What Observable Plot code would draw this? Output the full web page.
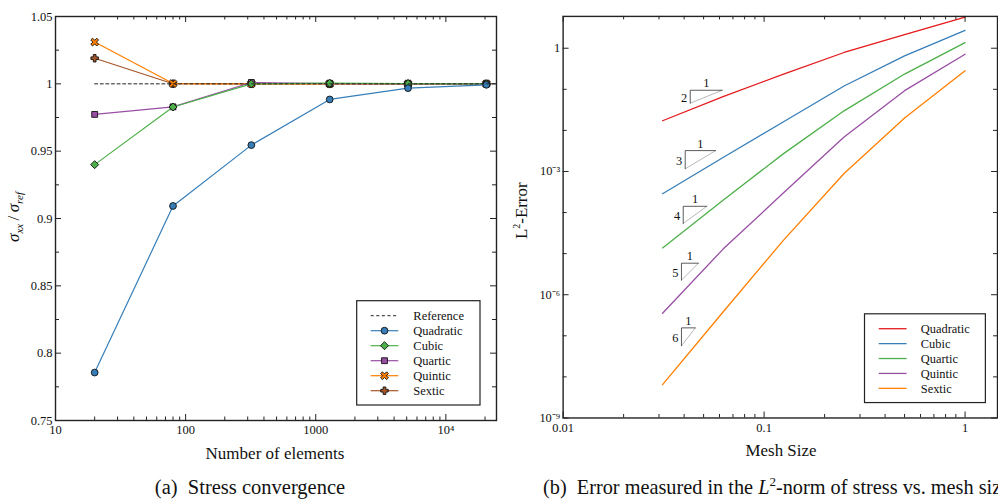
<!DOCTYPE html>
<html><head><meta charset="utf-8">
<script src="https://cdn.jsdelivr.net/npm/d3@7"></script>
<script src="https://cdn.jsdelivr.net/npm/@observablehq/plot@0.6"></script>
<style>
html,body{margin:0;padding:0;background:#fff;overflow:hidden;}
#wrap{position:relative;width:998px;height:501px;overflow:hidden;background:#fff;}
#left{position:absolute;left:0;top:0;}
#right{position:absolute;left:500px;top:0;}
#caps{position:absolute;left:0;top:460px;}
</style></head><body>
<div id="wrap"><div id="left"></div><div id="right"></div><svg id="caps" width="998" height="41"></svg></div>
<script>
// ---------- Panel (a) data ----------
const nElements = [20, 80, 320, 1280, 5120, 20480];
const quadratic = [0.7856, 0.9093, 0.9545, 0.9884, 0.9968, 0.9993];
const cubic     = [0.9400, 0.9828, 1.0000, 1.0005, 1.0002, 1.0000];
const quartic   = [0.9773, 0.9829, 1.0010, 1.0001, 1.0000, 1.0000];
const quintic   = [1.0310, 1.0002, 1.0000, 1.0000, 1.0000, 1.0000];
const sextic    = [1.0190, 1.0001, 1.0000, 1.0000, 1.0000, 1.0000];
const referenceX = [20, 24500];
const referenceValue = 1;
const seriesNames = ["Quadratic", "Cubic", "Quartic", "Quintic", "Sextic"];
const stressColors = ["#377eb8", "#4daf4a", "#984ea3", "#ff7f00", "#a65628"];
const xTicksA = [10, 100, 1000, 10000];
const xTickLabelsA = ["10", "100", "1000", "10\u2074"];
const yTicksA = [0.75, 0.8, 0.85, 0.9, 0.95, 1, 1.05];
const yTickLabelsA = ["0.75", "0.8", "0.85", "0.9", "0.95", "1", "1.05"];
const yMinorA = [0.775, 0.825, 0.875, 0.925, 0.975, 1.025];

// ---------- Panel (b) data ----------
const meshSize = [0.03125, 0.0625, 0.125, 0.25, 0.5, 1];
const errQuadratic = [0.01714, 0.0661, 0.2344, 0.787, 2.143, 5.71];
const errCubic     = [2.88e-4, 2.19e-3, 1.62e-2, 0.1205, 0.652, 2.73];
const errQuartic   = [1.38e-5, 2.0e-4, 2.72e-3, 2.99e-2, 0.235, 1.37];
const errQuintic   = [3.55e-7, 1.29e-5, 3.02e-4, 6.92e-3, 9.27e-2, 0.716];
const errSextic    = [6.46e-9, 3.8e-7, 2.14e-5, 8.91e-4, 2.0e-2, 0.282];
const errColors = ["#e41a1c", "#377eb8", "#4daf4a", "#984ea3", "#ff7f00"];
const xTicksB = [0.01, 0.1, 1];
const xTickLabelsB = ["0.01", "0.1", "1"];
const yTicksB = [1e-9, 1e-6, 1e-3, 1];
const yTickLabelsB = ["10\u207b\u2079", "10\u207b\u2076", "10\u207b\u00b3", "1"];
// slope triangles
const slopeOrders = [2, 3, 4, 5, 6];
const triX0 = [0.0429, 0.0405, 0.0396, 0.0388, 0.0388];
const triX1 = [0.0619, 0.0574, 0.0519, 0.0471, 0.0455];
const triTop = [0.0948, 0.00322, 1.42e-4, 5.85e-6, 1.56e-7];
const triBot = [0.0459, 0.00116, 5.42e-5, 2.26e-6, 5.73e-8];

const FONT = '"Liberation Serif", "Times New Roman", serif';

// custom filled symbols
function poly(ctx, pts){ctx.moveTo(pts[0][0],pts[0][1]);for(let k=1;k<pts.length;k++)ctx.lineTo(pts[k][0],pts[k][1]);ctx.closePath();}
function plusPts(r,w){return [[-w,-r],[w,-r],[w,-w],[r,-w],[r,w],[w,w],[w,r],[-w,r],[-w,w],[-r,w],[-r,-w],[-w,-w]];}
const symbolPlusFilled = {draw(ctx,size){const r=Math.sqrt(size/Math.PI)*1.1, w=r*0.36; poly(ctx, plusPts(r,w));}};
const symbolXFilled = {draw(ctx,size){const r=Math.sqrt(size/Math.PI)*1.25, w=r*0.3; const s=Math.SQRT1_2; poly(ctx, plusPts(r,w).map(([x,y])=>[(x-y)*s,(x+y)*s]));}};
const stressSymbols = [d3.symbolCircle, d3.symbolDiamond2 || d3.symbolDiamond, d3.symbolSquare, symbolXFilled, symbolPlusFilled];
const symbolR = [3.4, 3.6, 3.3, 3.4, 3.4];

function minorLog(lo, hi){const out=[];for(let e=Math.floor(Math.log10(lo));e<=Math.ceil(Math.log10(hi));e++){for(let k=2;k<=9;k++){const v=k*Math.pow(10,e);if(v>lo&&v<hi)out.push(v);}}return out;}
function decadeMinor(lo, hi, majors){const out=[];for(let e=Math.ceil(Math.log10(lo));e<=Math.floor(Math.log10(hi));e++){const v=Math.pow(10,e);if(!majors.some(m=>Math.abs(Math.log10(m)-e)<1e-9))out.push(v);}return out;}

function tickMarks(xMajor, xMinor, yMajor, yMinor, fw, fh){
  const st = {stroke:"#222", strokeWidth:1};
  return [
    Plot.tickX(xMajor, {x:d=>d, insetTop:fh-6, ...st}),
    Plot.tickX(xMajor, {x:d=>d, insetBottom:fh-6, ...st}),
    Plot.tickX(xMinor, {x:d=>d, insetTop:fh-3.5, ...st}),
    Plot.tickX(xMinor, {x:d=>d, insetBottom:fh-3.5, ...st}),
    Plot.tickY(yMajor, {y:d=>d, insetRight:fw-6, ...st}),
    Plot.tickY(yMajor, {y:d=>d, insetLeft:fw-6, ...st}),
    Plot.tickY(yMinor, {y:d=>d, insetRight:fw-4, ...st}),
    Plot.tickY(yMinor, {y:d=>d, insetLeft:fw-4, ...st})
  ];
}
function serifify(svgEl){
  d3.select(svgEl).selectAll("text").style("font-family", FONT).attr("fill", "#111");
}

// ---------- Panel (a) ----------
const stressValues = [quadratic, cubic, quartic, quintic, sextic];
const xDomA = [10, 24500];
const fwA = 500-55-4, fhA = 460-16-40;
const marksA = [];
for (let i = seriesNames.length-1; i >= 0; i--) {
  const rows = nElements.map((n,j)=>({n, v: stressValues[i][j]}));
  marksA.push(Plot.line(rows, {x:"n", y:"v", stroke: stressColors[i], strokeWidth:1.2}));
  marksA.push(Plot.dot(rows, {x:"n", y:"v", symbol: stressSymbols[i], r: symbolR[i], fill: stressColors[i], stroke:"#111", strokeWidth:0.9}));
}
marksA.push(Plot.line(referenceX.map(x=>({x, y: referenceValue})), {x:"x", y:"y", stroke:"#222", strokeWidth:1, strokeDasharray:"3,2.6"}));
const labA = new Map(xTicksA.map((d,i)=>[d, xTickLabelsA[i]]));
const labAy = new Map(yTicksA.map((d,i)=>[d, yTickLabelsA[i]]));
const plotA = Plot.plot({
  width:500, height:460, marginLeft:55, marginRight:4, marginTop:16, marginBottom:40,
  style:{fontFamily:FONT, fontSize:"12.5px", color:"#222", background:"transparent", overflow:"visible"},
  x:{type:"log", domain:xDomA, ticks:xTicksA, tickFormat:d=>labA.get(d), tickSize:0, tickPadding:5, label:null},
  y:{domain:[0.75,1.05], ticks:yTicksA, tickFormat:d=>labAy.get(d), tickSize:0, tickPadding:3, label:null},
  marks:[...marksA, ...tickMarks(xTicksA, minorLog(xDomA[0], xDomA[1]).filter(v=>!xTicksA.includes(v)), yTicksA, yMinorA, fwA, fhA), Plot.frame({stroke:"#222", strokeWidth:1.4})]
});
serifify(plotA);
document.getElementById("left").appendChild(plotA);
{
  const svg = d3.select(plotA);
  svg.append("text").attr("x",275).attr("y",459).attr("text-anchor","middle").style("font-family",FONT).style("font-size","17px").attr("fill","#111").text("Number of elements");
  const yl = svg.append("text").attr("transform","translate(19,217) rotate(-90)").attr("text-anchor","middle").style("font-family",FONT).style("font-size","17px").attr("fill","#111");
  yl.append("tspan").style("font-style","italic").text("\u03c3");
  yl.append("tspan").style("font-style","italic").style("font-size","11px").attr("dy",4).text("xx");
  yl.append("tspan").attr("dy",-4).text("\u2009/\u2009");
  yl.append("tspan").style("font-style","italic").text("\u03c3");
  yl.append("tspan").style("font-style","italic").style("font-size","11px").attr("dy",4).text("ref");
  const g = svg.append("g");
  g.append("rect").attr("x",356.7).attr("y",300.7).attr("width",123.3).attr("height",104.3).attr("fill","white").attr("stroke","#222").attr("stroke-width",1.2);
  const names = ["Reference", ...seriesNames];
  names.forEach((nm, k) => {
    const y = 315.7 + 15*k;
    if (k === 0) {
      g.append("line").attr("x1",370.7).attr("x2",398.3).attr("y1",y).attr("y2",y).attr("stroke","#222").attr("stroke-dasharray","3,2.6");
    } else {
      const i = k-1;
      g.append("line").attr("x1",370.7).attr("x2",398.3).attr("y1",y).attr("y2",y).attr("stroke",stressColors[i]).attr("stroke-width",1.2);
      g.append("path").attr("transform",`translate(384.5,${y})`).attr("d", d3.symbol(stressSymbols[i], Math.PI*symbolR[i]*symbolR[i])()).attr("fill",stressColors[i]).attr("stroke","#111").attr("stroke-width",0.9);
    }
    g.append("text").attr("x",413.3).attr("y",y).attr("dy","0.35em").attr("text-anchor","start").style("font-family",FONT).style("font-size","12.5px").attr("fill","#111").text(nm);
  });
}

// ---------- Panel (b) ----------
const errValues = [errQuadratic, errCubic, errQuartic, errQuintic, errSextic];
const xDomB = [0.01, 1.45], yDomB = [1e-9, 5.95];
const fwB = 501-63-1, fhB = 460-16-40;
const marksB = [];
errValues.forEach((vals, i) => {
  marksB.push(Plot.line(meshSize.map((h,j)=>({h, e: vals[j]})), {x:"h", y:"e", stroke: errColors[i], strokeWidth:1.3}));
});
const triIdx = slopeOrders.map((_,i)=>i);
const legRows = triIdx.flatMap(i=>[{o:i,x:triX1[i],y:triTop[i]},{o:i,x:triX0[i],y:triTop[i]},{o:i,x:triX0[i],y:triBot[i]}]);
marksB.push(Plot.link(triIdx, {x1:i=>triX0[i], y1:i=>triBot[i], x2:i=>triX1[i], y2:i=>triTop[i], stroke:"#999", strokeWidth:0.7}));
marksB.push(Plot.line(legRows, {x:"x", y:"y", z:"o", stroke:"#333", strokeWidth:0.8}));
marksB.push(Plot.text(triIdx, {x:i=>Math.sqrt(triX0[i]*triX1[i]), y:i=>triTop[i], text:()=> "1", dy:-7, fontSize:12.5, fill:"#222"}));
marksB.push(Plot.text(triIdx, {x:i=>triX0[i], y:i=>Math.sqrt(triTop[i]*triBot[i]), text:i=>String(slopeOrders[i]), dx:-3, dy:1, textAnchor:"end", fontSize:12.5, fill:"#222"}));
const labB = new Map(xTicksB.map((d,i)=>[d, xTickLabelsB[i]]));
const labBy = new Map(yTicksB.map((d,i)=>[d, yTickLabelsB[i]]));
const plotB = Plot.plot({
  width:501, height:460, marginLeft:63, marginRight:1, marginTop:16, marginBottom:40,
  style:{fontFamily:FONT, fontSize:"12.5px", color:"#222", background:"transparent", overflow:"visible"},
  x:{type:"log", domain:xDomB, ticks:xTicksB, tickFormat:d=>labB.get(d), tickSize:0, tickPadding:5, label:null},
  y:{type:"log", domain:yDomB, ticks:yTicksB, tickFormat:d=>labBy.get(d), tickSize:0, tickPadding:3, label:null},
  marks:[...marksB, ...tickMarks(xTicksB, minorLog(xDomB[0], xDomB[1]), yTicksB, decadeMinor(yDomB[0], yDomB[1], yTicksB), fwB, fhB), Plot.frame({stroke:"#222", strokeWidth:1.4})]
});
serifify(plotB);
document.getElementById("right").appendChild(plotB);
{
  const svg = d3.select(plotB);
  svg.append("text").attr("x",282.7).attr("y",459).attr("text-anchor","middle").style("font-family",FONT).style("font-size","17px").attr("fill","#111").text("Mesh Size");
  const yl = svg.append("text").attr("transform","translate(27,212) rotate(-90)").attr("text-anchor","middle").style("font-family",FONT).style("font-size","17px").attr("fill","#111");
  yl.append("tspan").text("L");
  yl.append("tspan").style("font-size","10px").attr("dy",-7).text("2");
  yl.append("tspan").attr("dy",7).text("-Error");
  const g = svg.append("g");
  g.append("rect").attr("x",366.7).attr("y",315.7).attr("width",121.6).attr("height",89.3).attr("fill","white").attr("stroke","#222").attr("stroke-width",1.2);
  seriesNames.forEach((nm, i) => {
    const y = 330.7 + 15*i;
    g.append("line").attr("x1",381).attr("x2",409).attr("y1",y).attr("y2",y).attr("stroke",errColors[i]).attr("stroke-width",1.3);
    g.append("text").attr("x",423.3).attr("y",y).attr("dy","0.35em").attr("text-anchor","start").style("font-family",FONT).style("font-size","12.5px").attr("fill","#111").text(nm);
  });
}

// ---------- Captions ----------
{
  const caps = d3.select("#caps");
  caps.append("text").attr("x",250).attr("y",34).attr("text-anchor","middle").style("font-family",FONT).style("font-size","20.5px").attr("fill","#111").text("(a)\u00a0\u00a0Stress convergence");
  const t = caps.append("text").attr("x",543).attr("y",34).style("font-family",FONT).style("font-size","20.3px").attr("fill","#111");
  t.append("tspan").text("(b)\u00a0\u00a0Error measured in the ");
  t.append("tspan").style("font-style","italic").text("L");
  t.append("tspan").style("font-size","13px").attr("dy",-8).text("2");
  t.append("tspan").attr("dy",8).text("-norm of stress vs. mesh size");
}
</script>
</body></html>
